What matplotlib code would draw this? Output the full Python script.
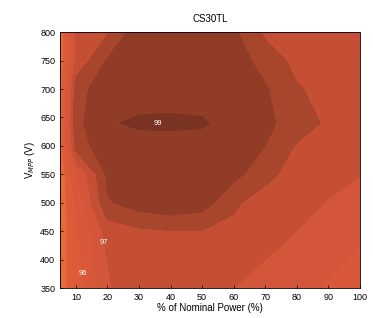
import numpy as np
import matplotlib
matplotlib.use("Agg")
import matplotlib.pyplot as plt
from matplotlib.colors import ListedColormap, BoundaryNorm

# % of nominal power (columns) and MPP voltage (rows)
power = [5, 10, 20, 30, 40, 50, 60, 70, 80, 90, 100]
voltage = [350, 400, 450, 500, 550, 600, 640, 700, 750, 800]

# efficiency (%), one row per voltage
eff = [
    [95.8, 96.2, 97.45, 97.8, 97.85, 97.8, 97.5, 97.35, 97.15, 96.95, 96.75],
    [95.7, 96.3, 97.5, 97.85, 97.9, 97.9, 97.8, 97.5, 97.3, 97.12, 96.9],
    [95.6, 96.4, 97.7, 97.9, 97.98, 97.98, 97.85, 97.65, 97.5, 97.3, 97.1],
    [95.6, 96.6, 98.45, 98.75, 98.9, 98.75, 98.1, 97.7, 97.6, 97.48, 97.3],
    [95.6, 96.9, 98.6, 98.85, 98.9, 98.85, 98.65, 98.2, 97.7, 97.62, 97.52],
    [95.6, 98.25, 98.8, 98.8, 98.8, 98.8, 98.75, 98.5, 97.95, 97.75, 97.6],
    [95.6, 98.35, 98.95, 99.08, 99.1, 99.06, 98.8, 98.6, 98.3, 97.9, 97.6],
    [95.6, 98.3, 98.8, 98.75, 98.75, 98.75, 98.75, 98.55, 98.05, 97.8, 97.65],
    [95.6, 97.6, 98.55, 98.9, 98.95, 98.9, 98.75, 98.3, 97.85, 97.7, 97.6],
    [95.6, 97.6, 97.95, 98.85, 98.9, 98.85, 98.6, 97.9, 97.8, 97.7, 97.6],
]

levels = [95, 96, 96.5, 97, 97.5, 98, 98.5, 99, 99.5]
band_colors = ["#ea663b", "#de5b3a", "#d9583a", "#d3553a", "#c54f35",
               "#a8452d", "#913c27", "#7a3222"]

# contour labels: (text, power, voltage)
contour_labels = [("96", 12.3, 376), ("97", 18.9, 431), ("99", 36, 640)]


def draw(ax):
    cmap = ListedColormap(band_colors)
    norm = BoundaryNorm(levels, cmap.N)
    ax.contourf(power, voltage, np.array(eff), levels=levels, cmap=cmap, norm=norm)
    for txt, px, vy in contour_labels:
        ax.text(px, vy, txt, color="white", fontsize=5.5, ha="center", va="center")
    ax.set_xlim(5, 100)
    ax.set_ylim(350, 800)
    ax.set_xticks(range(10, 101, 10))
    ax.set_yticks(range(350, 801, 50))
    ax.tick_params(labelsize=6.5, direction="in", length=2, width=0.5)
    for s in ax.spines.values():
        s.set_linewidth(0.6)
    ax.set_title("CS30TL", fontsize=7, pad=7)
    ax.set_xlabel("% of Nominal Power (%)", fontsize=7, labelpad=1)
    ax.set_ylabel("V$_{MPP}$ (V)", fontsize=7, labelpad=2)


def main():
    plt.rcParams["font.family"] = ["Liberation Sans", "DejaVu Sans"]
    fig = plt.figure(figsize=(3.73, 3.18), dpi=100)
    ax = fig.add_axes([0.161, 0.094, 0.804, 0.805])
    draw(ax)
    fig.savefig("out.png", dpi=100)
    return 0


if __name__ == "__main__":
    main()
